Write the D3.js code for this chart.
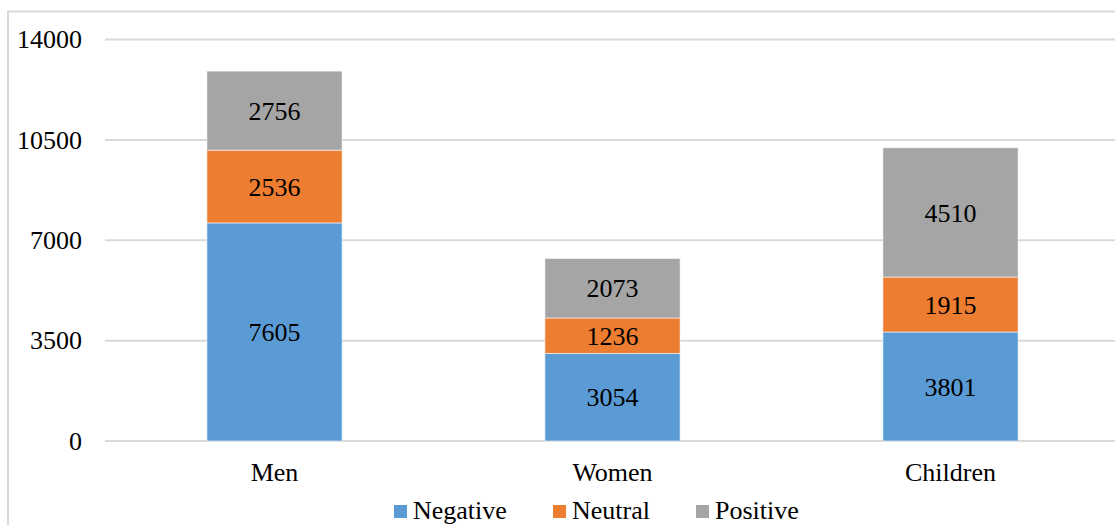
<!DOCTYPE html>
<html>
<head>
<meta charset="utf-8">
<script src="https://cdn.jsdelivr.net/npm/d3@7"></script>
<style>
  html, body { margin: 0; padding: 0; background: #fff; }
  svg { display: block; }
  text { font-family: "Liberation Serif", "Times New Roman", serif; fill: #000; }
</style>
</head>
<body>
<svg id="chart" width="1115" height="525"></svg>
<script>
// Sentiment counts per group
const categories = ["Men", "Women", "Children"];
const seriesNames = ["Negative", "Neutral", "Positive"];
const negative = [7605, 3054, 3801];
const neutral = [2536, 1236, 1915];
const positive = [2756, 2073, 4510];
const yTicks = [0, 3500, 7000, 10500, 14000];
const colors = ["#5B9BD5", "#ED7D31", "#A5A5A5"];

const rows = categories.map((c, i) => ({
  category: c,
  Negative: negative[i],
  Neutral: neutral[i],
  Positive: positive[i]
}));

const svg = d3.select("#chart");
const W = 1115, H = 525;
const plot = { left: 105.5, right: 1119.5, top: 39.5, bottom: 441 };

// Outer chart frame (extends past the visible area on the right and bottom)
svg.append("rect")
  .attr("x", 8).attr("y", 11.5)
  .attr("width", W + 20).attr("height", H + 20)
  .attr("fill", "none").attr("stroke", "#d9d9d9").attr("stroke-width", 2);

const x = d3.scaleBand()
  .domain(categories)
  .range([plot.left, plot.right])
  .paddingInner(0.6)
  .paddingOuter(0.3);

const y = d3.scaleLinear()
  .domain([0, 14000])
  .range([plot.bottom, plot.top]);

// Horizontal gridlines
svg.append("g")
  .selectAll("line")
  .data(yTicks)
  .join("line")
  .attr("x1", plot.left - 0.5).attr("x2", W + 10)
  .attr("y1", d => y(d)).attr("y2", d => y(d))
  .attr("stroke", "#d9d9d9").attr("stroke-width", 2);

// Y tick labels
svg.append("g")
  .selectAll("text")
  .data(yTicks)
  .join("text")
  .attr("x", 82).attr("y", d => y(d))
  .attr("dy", "0.34em")
  .attr("text-anchor", "end")
  .attr("font-size", 26)
  .text(d => d);

const stacked = d3.stack().keys(seriesNames)(rows);

const layers = svg.append("g")
  .selectAll("g")
  .data(stacked)
  .join("g")
  .attr("fill", (d, i) => colors[i]);

layers.selectAll("rect")
  .data(d => d)
  .join("rect")
  .attr("x", d => x(d.data.category))
  .attr("width", x.bandwidth())
  .attr("y", d => y(d[1]))
  .attr("height", d => y(d[0]) - y(d[1]))
  .attr("stroke", "rgba(255,255,255,0.55)")
  .attr("stroke-width", 1);

// Value labels centred in each segment
const labels = svg.append("g");
stacked.forEach(layer => {
  layer.forEach(d => {
    labels.append("text")
      .attr("x", x(d.data.category) + x.bandwidth() / 2)
      .attr("y", (y(d[0]) + y(d[1])) / 2)
      .attr("dy", "0.35em")
      .attr("text-anchor", "middle")
      .attr("font-size", 26)
      .text(d.data[layer.key]);
  });
});

// Category labels
svg.append("g")
  .selectAll("text")
  .data(categories)
  .join("text")
  .attr("x", d => x(d) + x.bandwidth() / 2)
  .attr("y", 481)
  .attr("text-anchor", "middle")
  .attr("font-size", 26)
  .text(d => d);

// Legend
const legendX = [394, 553, 696];
const legend = svg.append("g")
  .selectAll("g")
  .data(seriesNames)
  .join("g")
  .attr("transform", (d, i) => `translate(${legendX[i]},0)`);
legend.append("rect")
  .attr("x", 0).attr("y", 505)
  .attr("width", 13).attr("height", 13)
  .attr("fill", (d, i) => colors[i]);
legend.append("text")
  .attr("x", 19).attr("y", 518.5)
  .attr("font-size", 26)
  .text(d => d);
</script>
</body>
</html>
